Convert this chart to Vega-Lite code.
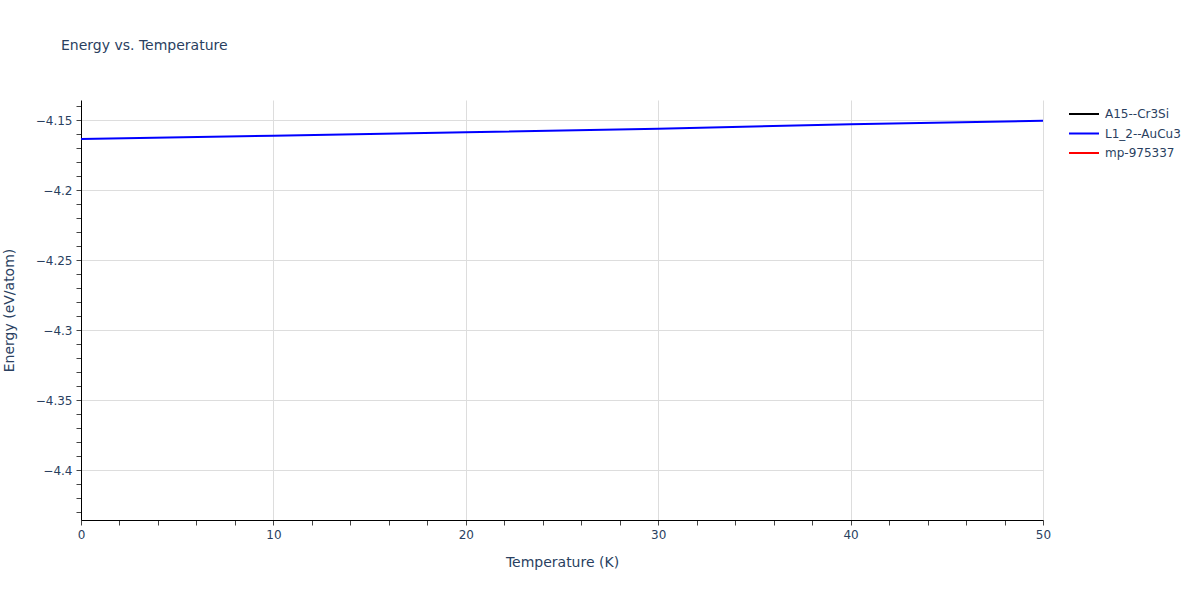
{
  "$schema": "https://vega.github.io/schema/vega-lite/v6.json",
  "autosize": "none",
  "width": 962,
  "height": 420,
  "padding": {"left": 81, "top": 100, "right": 157, "bottom": 80},
  "background": "white",
  "title": {
    "text": "Energy vs. Temperature",
    "anchor": "start",
    "frame": "group",
    "dx": -20,
    "offset": 47,
    "font": "DejaVu Sans",
    "fontSize": 14,
    "fontWeight": "normal",
    "color": "#2a3f5f"
  },
  "config": {
    "view": {"stroke": null},
    "font": "DejaVu Sans"
  },
  "data": {
    "values": [
      {"T": 0, "E": -4.1636, "series": "L1_2--AuCu3"},
      {"T": 10, "E": -4.1612, "series": "L1_2--AuCu3"},
      {"T": 20, "E": -4.1588, "series": "L1_2--AuCu3"},
      {"T": 30, "E": -4.1562, "series": "L1_2--AuCu3"},
      {"T": 40, "E": -4.1531, "series": "L1_2--AuCu3"},
      {"T": 50, "E": -4.1506, "series": "L1_2--AuCu3"}
    ]
  },
  "mark": {"type": "line", "strokeWidth": 2, "clip": true},
  "encoding": {
    "x": {
      "field": "T",
      "type": "quantitative",
      "scale": {"domain": [0, 50], "nice": false, "zero": false},
      "axis": {
        "title": "Temperature (K)",
        "titleFont": "DejaVu Sans",
        "titleFontSize": 14,
        "titleFontWeight": "normal",
        "titleColor": "#2a3f5f",
        "titlePadding": 15,
        "values": [0, 2, 4, 6, 8, 10, 12, 14, 16, 18, 20, 22, 24, 26, 28, 30, 32, 34, 36, 38, 40, 42, 44, 46, 48, 50],
        "labelExpr": "datum.value % 10 === 0 ? format(datum.value, 'd') : ''",
        "labelFont": "DejaVu Sans",
        "labelFontSize": 12,
        "labelColor": "#2a3f5f",
        "labelPadding": 4,
        "labelFlush": false,
        "domainColor": "#000000",
        "domainWidth": 1,
        "tickColor": "#444444",
        "tickSize": 5,
        "gridColor": {"condition": {"test": "datum.value % 10 === 0 && datum.value > 0", "value": "#dddddd"}, "value": "rgba(0,0,0,0)"},
        "gridWidth": 1
      }
    },
    "y": {
      "field": "E",
      "type": "quantitative",
      "scale": {"domain": [-4.4357, -4.1357], "nice": false, "zero": false},
      "axis": {
        "title": "Energy (eV/atom)",
        "titleFont": "DejaVu Sans",
        "titleFontSize": 14,
        "titleFontWeight": "normal",
        "titleColor": "#2a3f5f",
        "titlePadding": 19,
        "values": [-4.43, -4.42, -4.41, -4.4, -4.39, -4.38, -4.37, -4.36, -4.35, -4.34, -4.33, -4.32, -4.31, -4.3, -4.29, -4.28, -4.27, -4.26, -4.25, -4.24, -4.23, -4.22, -4.21, -4.2, -4.19, -4.18, -4.17, -4.16, -4.15, -4.14],
        "labelExpr": "abs(round(datum.value * 100)) % 5 === 0 ? format(datum.value, '.2~f') : ''",
        "labelFont": "DejaVu Sans",
        "labelFontSize": 12,
        "labelColor": "#2a3f5f",
        "labelPadding": 4,
        "labelFlush": false,
        "domainColor": "#000000",
        "domainWidth": 1,
        "tickColor": "#444444",
        "tickSize": 5,
        "gridColor": {"condition": {"test": "abs(round(datum.value * 100)) % 5 === 0", "value": "#dddddd"}, "value": "rgba(0,0,0,0)"},
        "gridWidth": 1
      }
    },
    "color": {
      "field": "series",
      "type": "nominal",
      "scale": {
        "domain": ["A15--Cr3Si", "L1_2--AuCu3", "mp-975337"],
        "range": ["#000000", "#0000ff", "#ff0000"]
      },
      "legend": {
        "title": null,
        "orient": "none",
        "legendX": 987,
        "legendY": 6,
        "symbolType": "stroke",
        "symbolStrokeWidth": 2,
        "symbolSize": 900,
        "clipHeight": 16,
        "labelFont": "DejaVu Sans",
        "labelFontSize": 12,
        "labelColor": "#2a3f5f",
        "rowPadding": 3.5,
        "labelOffset": 5
      }
    }
  }
}
